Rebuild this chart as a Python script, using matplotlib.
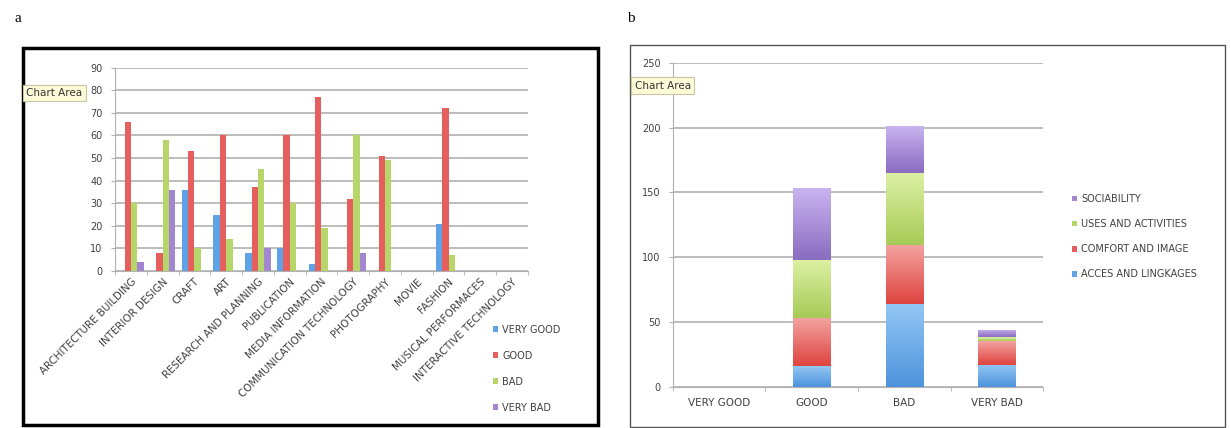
import numpy as np
import matplotlib
matplotlib.use("Agg")
import matplotlib.pyplot as plt
from matplotlib.patches import Rectangle
from matplotlib.colors import LinearSegmentedColormap

# panel a: ratings per creative field
fields = ['ARCHITECTURE BUILDING', 'INTERIOR DESIGN', 'CRAFT', 'ART',
          'RESEARCH AND PLANNING', 'PUBLICATION', 'MEDIA INFORMATION',
          'COMMUNICATION TECHNOLOGY', 'PHOTOGRAPHY', 'MOVIE', 'FASHION',
          'MUSICAL PERFORMACES', 'INTERACTIVE TECHNOLOGY']
very_good = [0, 0, 36, 25, 8, 10, 3, 0, 0, 0, 21, 0, 0]
good = [66, 8, 53, 60, 37, 60, 77, 32, 51, 0, 72, 0, 0]
bad = [30, 58, 10, 14, 45, 30, 19, 60, 49, 0, 7, 0, 0]
very_bad = [4, 36, 0, 0, 10, 0, 0, 8, 0, 0, 0, 0, 0]
ratings = ['VERY GOOD', 'GOOD', 'BAD', 'VERY BAD']

# panel b: stacked aspects per rating
aspects = ['ACCES AND LINGKAGES', 'COMFORT AND IMAGE', 'USES AND ACTIVITIES', 'SOCIABILITY']
acces = [0, 16, 64, 17]
comfort = [0, 37, 45, 18]
uses = [0, 45, 56, 3]
sociability = [0, 55, 36, 6]

blue = '#5fa3e6'
red = '#e5605c'
green = '#b7d66a'
purple = '#a286cf'
# gradient ends (top, bottom) for the stacked bars
grads = [('#93c6f4', '#4d93dc'), ('#f3a2a0', '#df443f'),
         ('#ddf0a4', '#a6cb57'), ('#c9b3f0', '#8a6cc0')]
txt = '#404040'
gridc = '#b0b0b0'

fig = plt.figure(figsize=(12.31, 4.28), dpi=100)

# ---- panel a ----
ax1 = fig.add_axes([0.0934, 0.3668, 0.3355, 0.475])
x = np.arange(len(fields))
w = 0.2
series_a = [very_good, good, bad, very_bad]
cols = [blue, red, green, purple]
for i, (vals, c, lab) in enumerate(zip(series_a, cols, ratings)):
    ax1.bar(x + (i - 1.5) * w, vals, w, color=c, label=lab, zorder=3)
ax1.set_xlim(-0.5, len(fields) - 0.5)
ax1.set_ylim(0, 90)
ax1.set_yticks(range(0, 91, 10))
ax1.yaxis.grid(True, color=gridc, lw=1.2, zorder=0)
ax1.set_xticks(x)
ax1.set_xticklabels(fields, rotation=45, ha='right', rotation_mode='anchor',
                    fontsize=7.4, color=txt)
ax1.set_xticks(np.arange(-0.5, len(fields)), minor=True)
ax1.tick_params(axis='x', which='major', length=0, pad=4)
ax1.tick_params(axis='x', which='minor', length=3, color=gridc)
ax1.tick_params(axis='y', labelsize=7, labelcolor=txt, length=3, color=gridc, pad=6)
for s in ['top', 'right']:
    ax1.spines[s].set_visible(False)
ax1.spines['left'].set_color(gridc)
ax1.spines['bottom'].set_color(gridc)
ax1.legend(loc='upper left', bbox_to_anchor=(0.393, 0.262), bbox_transform=fig.transFigure,
           frameon=False, fontsize=7, handlelength=0.6, handleheight=0.6,
           handletextpad=0.4, labelspacing=1.65, labelcolor=txt)

# ---- panel b ----
ax2 = fig.add_axes([0.5467, 0.0965, 0.3006, 0.757])
xb = np.arange(len(ratings))
bottom = np.zeros(len(ratings))
handles = []
grad = np.linspace(0, 1, 64).reshape(-1, 1)
for vals, c, lab, (top_c, bot_c) in zip([acces, comfort, uses, sociability],
                                        [blue, red, green, purple], aspects, grads):
    h = ax2.bar(xb, vals, 0.4, bottom=bottom, color=c, label=lab, zorder=3)
    handles.append(h)
    cmap = LinearSegmentedColormap.from_list('g', [bot_c, top_c])
    for p in h.patches:
        if p.get_height() <= 0:
            continue
        x0, y0 = p.get_x(), p.get_y()
        im = ax2.imshow(grad, cmap=cmap, aspect='auto', origin='lower', zorder=4,
                        extent=(x0, x0 + p.get_width(), y0, y0 + p.get_height()))
        im.set_clip_path(p)
    bottom += np.array(vals)
ax2.set_xlim(-0.5, len(ratings) - 0.5)
ax2.set_ylim(0, 250)
ax2.set_yticks(range(0, 251, 50))
ax2.yaxis.grid(True, color=gridc, lw=1.2, zorder=0)
ax2.set_xticks(xb)
ax2.set_xticklabels(ratings, fontsize=7.5, color=txt)
ax2.set_xticks(np.arange(-0.5, len(ratings)), minor=True)
ax2.tick_params(axis='x', which='major', length=0, pad=8)
ax2.tick_params(axis='x', which='minor', length=3, color=gridc)
ax2.tick_params(axis='y', labelsize=7, labelcolor=txt, length=3, color=gridc, pad=6)
for s in ['top', 'right']:
    ax2.spines[s].set_visible(False)
ax2.spines['left'].set_color(gridc)
ax2.spines['bottom'].set_color(gridc)
ax2.legend(handles[::-1], aspects[::-1], loc='upper left', bbox_to_anchor=(0.864, 0.567),
           bbox_transform=fig.transFigure, frameon=False, fontsize=7, handlelength=0.5,
           handleheight=0.5, handletextpad=0.4, labelspacing=1.55, labelcolor=txt)

# frames around the two panels
fig.add_artist(Rectangle((0.0187, 0.007), 0.467, 0.881, transform=fig.transFigure,
                         fill=False, ec='black', lw=2.5))
fig.add_artist(Rectangle((0.5118, 0.0023), 0.4833, 0.8925, transform=fig.transFigure,
                         fill=False, ec='#555555', lw=1))

# "Chart Area" tooltips
tip = dict(boxstyle='square,pad=0.3', fc='#fdfbd8', ec='#c8c6a0', lw=0.8)
fig.text(0.0215, 0.782, 'Chart Area', fontsize=7.5, color='#333333', va='center', bbox=tip)
fig.text(0.5155, 0.80, 'Chart Area', fontsize=7.5, color='#333333', va='center', bbox=tip)

# panel letters
fig.text(0.012, 0.972, 'a', family='Liberation Serif', fontsize=11, va='top')
fig.text(0.509, 0.972, 'b', family='Liberation Serif', fontsize=11, va='top')

fig.savefig('out.png', dpi=100)
